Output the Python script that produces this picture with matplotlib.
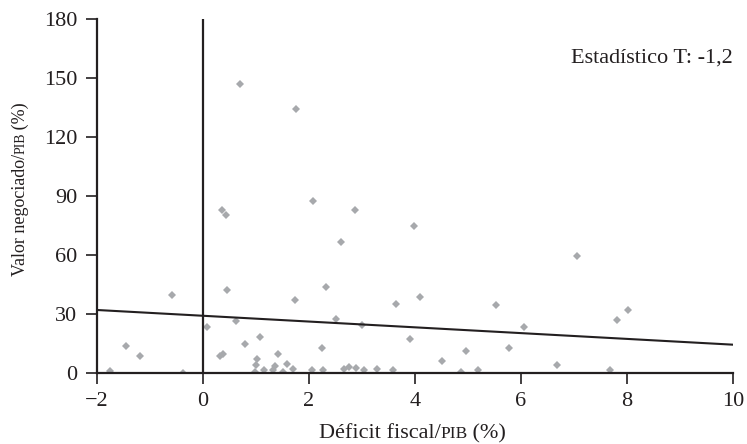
import matplotlib
matplotlib.use("Agg")
import matplotlib.pyplot as plt
from matplotlib.transforms import IdentityTransform
import numpy as np

# Fiscal deficit (% of GDP) vs. traded value (% of GDP), one point per country
deficit = [0.70, 1.75, 0.35, 0.43, 2.07, 2.87, 2.61, 3.99, 7.06, 4.09,
           5.52, 8.02, 7.81, 3.65, 1.73, 2.33, -0.59, 0.45, 2.51, 3.00,
           0.63, 0.08, 6.05, 3.91, 2.24, 4.96, 4.50, 5.78, 6.67, 7.68,
           -1.45, -1.19, 0.79, 1.07, 0.32, 0.37, 1.42, 1.02, 1.00, 1.15,
           1.35, 1.33, 1.51, 0.99, 1.58, 1.70, -1.75, -0.38, 2.06, 2.27,
           2.66, 2.76, 2.88, 3.03, 3.28, 3.58, 4.87, 5.19]
traded = [147.0, 134.0, 83.0, 80.5, 87.3, 83.0, 66.4, 75.0, 59.5, 38.8,
          34.4, 31.8, 27.2, 35.3, 37.1, 43.9, 39.6, 42.2, 27.6, 24.2,
          26.6, 23.4, 23.2, 17.1, 12.9, 11.1, 6.0, 12.8, 4.1, 1.5,
          13.7, 8.4, 14.8, 18.1, 8.4, 9.5, 9.6, 7.1, 4.1, 1.3,
          3.6, 1.6, 0.3, 0.3, 4.4, 2.0, 1.0, 0.2, 1.3, 1.3,
          2.0, 3.3, 2.7, 1.3, 2.0, 1.3, 0.3, 1.3]

# Fitted trend line
fit_intercept = 29.1
fit_slope = -1.47
fit_x = [-2, 10]

x_ticks = [-2, 0, 2, 4, 6, 8, 10]
y_ticks = [0, 30, 60, 90, 120, 150, 180]
t_stat_label = "Estadístico T: -1,2"

INK = "#231f20"
FONT = "Liberation Serif"
plt.rcParams["font.family"] = [FONT, "DejaVu Serif"]

W, H = 747, 444
fig = plt.figure(figsize=(W / 100, H / 100), dpi=100)
ax = fig.add_axes([97 / W, 1 - 373 / H, (733 - 97) / W, (373 - 19) / H])

ax.plot(deficit, traded, linestyle="none", marker="D", markersize=3.7,
        color="#a7a9ac", markeredgewidth=0, zorder=2)
fx = np.array(fit_x, dtype=float)
ax.plot(fx, fit_intercept + fit_slope * fx, color=INK, lw=1.5, zorder=3)
ax.axvline(0, color=INK, lw=1.6, zorder=3)

ax.set_xlim(-2, 10)
ax.set_ylim(0, 180)
ax.set_xticks(x_ticks)
ax.set_yticks(y_ticks)
ax.tick_params(direction="out", length=8, width=1.2, color=INK,
               labelsize=16, labelcolor=INK, pad=6)
for side in ("top", "right"):
    ax.spines[side].set_visible(False)
for side in ("left", "bottom"):
    ax.spines[side].set_linewidth(1.6)
    ax.spines[side].set_color(INK)
    ax.spines[side].set_zorder(4)

ax.text(1.0, 0.876, t_stat_label, transform=ax.transAxes, ha="right",
        va="baseline", fontsize=16, color=INK)

# Axis titles with "PIB" set in small capitals
fig.canvas.draw()
renderer = fig.canvas.get_renderer()


def composite_label(parts, anchor, vertical=False):
    texts = []
    sizes = []
    for s, fs in parts:
        t = fig.text(0, 0, s, fontsize=fs, color=INK, transform=IdentityTransform(),
                     rotation=90 if vertical else 0, ha="left", va="baseline",
                     rotation_mode="anchor")
        bb = t.get_window_extent(renderer)
        sizes.append(bb.height if vertical else bb.width)
        texts.append(t)
    total = sum(sizes)
    cx, cy = anchor
    pos = (cy if vertical else cx) - total / 2
    for t, sz in zip(texts, sizes):
        if vertical:
            t.set_position((cx, pos))
        else:
            t.set_position((pos, cy))
        pos += sz


composite_label([("Déficit fiscal/", 16), ("PIB", 12.5), ("\u2009(%)", 16)],
                (412, H - 438))
composite_label([("Valor negociado/", 13), ("PIB", 10), ("\u2009(%)", 13)],
                (25, H - 189), vertical=True)

fig.savefig("out.png", dpi=100)
